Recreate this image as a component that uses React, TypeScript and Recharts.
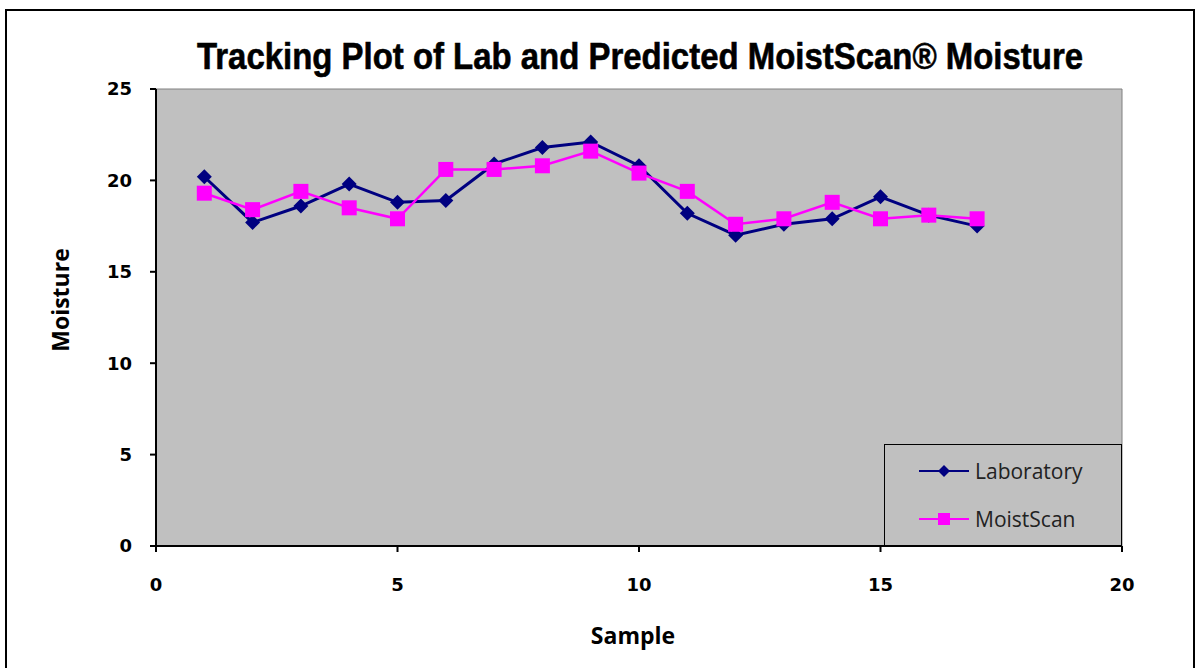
import React from "react";
import { LineChart, Line, XAxis, YAxis, ReferenceArea } from "recharts";

const samples = [1, 2, 3, 4, 5, 6, 7, 8, 9, 10, 11, 12, 13, 14, 15, 16, 17];
const laboratory = [20.2, 17.7, 18.6, 19.8, 18.8, 18.9, 20.9, 21.8, 22.1, 20.8, 18.2, 17.0, 17.6, 17.9, 19.1, 18.1, 17.5];
const moistScan = [19.3, 18.4, 19.4, 18.5, 17.9, 20.6, 20.6, 20.8, 21.6, 20.4, 19.4, 17.6, 17.9, 18.8, 17.9, 18.1, 17.9];
const xTicks = [0, 5, 10, 15, 20];
const yTicks = [0, 5, 10, 15, 20, 25];

const data = samples.map((s, i) => ({
  sample: s,
  lab: laboratory[i],
  moist: moistScan[i],
}));

const NAVY = "#000080";
const MAGENTA = "#ff00ff";
const tickFont = "Tahoma, 'DejaVu Sans', sans-serif";

function Diamond(props: any) {
  const { cx, cy, fill, key } = props;
  if (cx == null || cy == null) return <g key={key} />;
  const r = 7.5;
  return (
    <path
      key={key}
      d={`M${cx},${cy - r} L${cx + r},${cy} L${cx},${cy + r} L${cx - r},${cy} Z`}
      fill={fill}
    />
  );
}

function Square(props: any) {
  const { cx, cy, fill, key } = props;
  if (cx == null || cy == null) return <g key={key} />;
  const h = 7.5;
  return <rect key={key} x={cx - h} y={cy - h} width={h * 2} height={h * 2} fill={fill} />;
}

function LegendBox() {
  const row = (label: string, color: string, marker: "d" | "s") => (
    <div style={{ display: "flex", alignItems: "center", height: 48 }}>
      <svg width={52} height={20} style={{ marginRight: 4 }}>
        <line x1={0} y1={10} x2={50} y2={10} stroke={color} strokeWidth={2} />
        {marker === "d" ? (
          <path d="M25,4 L31,10 L25,16 L19,10 Z" fill={color} />
        ) : (
          <rect x={19} y={4} width={12} height={12} fill={color} />
        )}
      </svg>
      <span>{label}</span>
    </div>
  );
  return (
    <div
      style={{
        position: "absolute",
        left: 884,
        top: 444,
        width: 238,
        height: 102,
        background: "#c0c0c0",
        border: "1px solid #000",
        boxSizing: "border-box",
        paddingLeft: 34,
        paddingTop: 2,
        fontFamily: "'Open Sans', sans-serif",
        fontSize: 21,
        color: "#222",
      }}
    >
      {row("Laboratory", NAVY, "d")}
      {row("MoistScan", MAGENTA, "s")}
    </div>
  );
}

export default function App() {
  return (
    <div
      style={{
        position: "absolute",
        left: 0,
        top: 0,
        width: 1200,
        height: 668,
        overflow: "hidden",
        background: "#fff",
      }}
    >
      <div
        style={{
          position: "absolute",
          left: 5,
          top: 9,
          width: 1190,
          height: 700,
          border: "2px solid #000",
          boxSizing: "border-box",
        }}
      />
      <div
        style={{
          position: "absolute",
          left: 640,
          top: 57,
          transform: "translate(-50%, -50%) scaleX(0.89)",
          whiteSpace: "nowrap",
          fontFamily: "'Liberation Sans', Arial, sans-serif",
          fontWeight: "bold",
          fontSize: 37,
          color: "#000",
          WebkitTextStroke: "0.6px #000",
        }}
      >
        Tracking Plot of Lab and Predicted MoistScan® Moisture
      </div>
      <div
        style={{
          position: "absolute",
          left: 60,
          top: 300,
          transform: "translate(-50%, -50%) rotate(-90deg)",
          fontFamily: "'Open Sans', sans-serif",
          fontWeight: "bold",
          fontSize: 23,
          color: "#000",
        }}
      >
        Moisture
      </div>
      <div
        style={{
          position: "absolute",
          left: 633,
          top: 635,
          transform: "translate(-50%, -50%)",
          fontFamily: "'Open Sans', sans-serif",
          fontWeight: "bold",
          fontSize: 23,
          color: "#000",
        }}
      >
        Sample
      </div>
      <div style={{ position: "absolute", left: 0, top: 0 }}>
        <LineChart
          width={1200}
          height={668}
          data={data}
          margin={{ top: 89, right: 78, bottom: 92, left: 96 }}
        >
          <ReferenceArea
            x1={0}
            x2={20}
            y1={0}
            y2={25}
            fill="#c0c0c0"
            fillOpacity={1}
            stroke="#808080"
            strokeWidth={1}
          />
          <XAxis
            dataKey="sample"
            type="number"
            domain={[0, 20]}
            ticks={xTicks}
            height={30}
            axisLine={{ stroke: "#000", strokeWidth: 2 }}
            tickLine={{ stroke: "#000", strokeWidth: 2 }}
            tickSize={6}
            tick={{
              fill: "#000",
              fontSize: 18,
              fontWeight: "bold",
              fontFamily: tickFont,
              dy: 24,
            }}
          />
          <YAxis
            type="number"
            domain={[0, 25]}
            ticks={yTicks}
            width={60}
            axisLine={{ stroke: "#000", strokeWidth: 2 }}
            tickLine={{ stroke: "#000", strokeWidth: 2 }}
            tickSize={6}
            tick={{
              fill: "#000",
              fontSize: 18,
              fontWeight: "bold",
              fontFamily: tickFont,
              dx: -16,
            }}
          />
          <Line
            type="linear"
            dataKey="lab"
            name="Laboratory"
            stroke={NAVY}
            strokeWidth={3}
            fill={NAVY}
            dot={(p: any) => <Diamond {...p} fill={NAVY} />}
            activeDot={false}
            isAnimationActive={false}
          />
          <Line
            type="linear"
            dataKey="moist"
            name="MoistScan"
            stroke={MAGENTA}
            strokeWidth={2.5}
            fill={MAGENTA}
            dot={(p: any) => <Square {...p} fill={MAGENTA} />}
            activeDot={false}
            isAnimationActive={false}
          />
        </LineChart>
      </div>
      <LegendBox />
    </div>
  );
}
